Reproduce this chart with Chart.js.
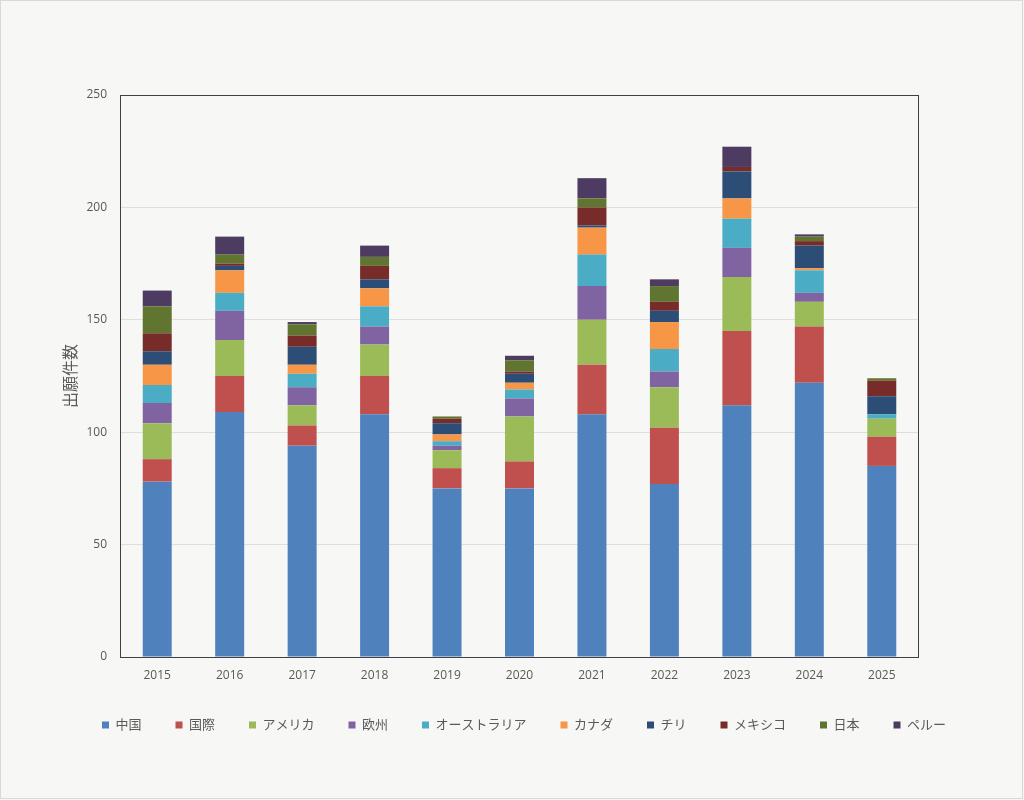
<!DOCTYPE html>
<html>
<head>
<meta charset="utf-8">
<script src="https://cdn.jsdelivr.net/npm/chart.js@4"></script>
<style>
  html, body { margin: 0; padding: 0; background: #f7f7f5; }
  #wrap { width: 1024px; height: 800px; }
</style>
</head>
<body>
<div id="wrap"><canvas id="patentChart" width="1024" height="800"></canvas></div>
<script>
// 年度
var years = ['2015', '2016', '2017', '2018', '2019', '2020', '2021', '2022', '2023', '2024', '2025'];

// 出願先ごとの件数
var china     = [78, 109, 94, 108, 75, 75, 108, 77, 112, 122, 85];
var intl      = [10, 16, 9, 17, 9, 12, 22, 25, 33, 25, 13];
var usa       = [16, 16, 9, 14, 8, 20, 20, 18, 24, 11, 8];
var europe    = [9, 13, 8, 8, 2, 8, 15, 7, 13, 4, 0];
var australia = [8, 8, 6, 9, 2, 4, 14, 10, 13, 10, 2];
var canada    = [9, 10, 4, 8, 3, 3, 12, 12, 9, 1, 0];
var chile     = [6, 2, 8, 4, 5, 4, 1, 5, 12, 10, 8];
var mexico    = [8, 1, 5, 6, 2, 1, 8, 4, 2, 2, 7];
var japan     = [12, 4, 5, 4, 1, 5, 4, 7, 0, 2, 1];
var peru      = [7, 8, 1, 5, 0, 2, 9, 3, 9, 1, 0];

var seriesNames = ['中国', '国際', 'アメリカ', '欧州', 'オーストラリア', 'カナダ', 'チリ', 'メキシコ', '日本', 'ペルー'];
var seriesData = [china, intl, usa, europe, australia, canada, chile, mexico, japan, peru];
var seriesColors = ['#4f81bd', '#c0504d', '#9bbb59', '#8064a2', '#4bacc6', '#f79646', '#2c4d75', '#772c2a', '#5f7530', '#4d3b62'];

var textColor = '#595959';
var baseFont = '"Open Sans", "Noto Sans CJK JP", sans-serif';

var datasets = seriesNames.map(function (name, i) {
    return {
        label: name,
        data: seriesData[i],
        backgroundColor: seriesColors[i],
        borderWidth: 0,
        barPercentage: 0.4,
        categoryPercentage: 1.0
    };
});

// 背景・外枠・プロットエリア枠
var framePlugin = {
    id: 'frame',
    beforeDraw: function (chart) {
        var c = chart.ctx;
        c.save();
        c.fillStyle = '#f7f7f5';
        c.fillRect(0, 0, chart.width, chart.height);
        c.strokeStyle = '#d9d9d9';
        c.lineWidth = 1;
        c.strokeRect(0.5, 0.5, chart.width - 2, chart.height - 2);
        c.restore();
    },
    afterDraw: function (chart) {
        var a = chart.chartArea;
        var c = chart.ctx;
        c.save();
        c.strokeStyle = '#404040';
        c.lineWidth = 1;
        c.strokeRect(Math.round(a.left) - 0.5, Math.round(a.top) + 0.5, Math.round(a.right - a.left) + 1, Math.round(a.bottom - a.top));
        c.restore();
    }
};

var ctx = document.getElementById('patentChart').getContext('2d');
var patentChart = new Chart(ctx, {
    type: 'bar',
    data: {
        labels: years,
        datasets: datasets
    },
    options: {
        responsive: false,
        animation: false,
        layout: {
            padding: { left: 24, right: 0, top: 95, bottom: 58.5 }
        },
        plugins: {
            tooltip: { enabled: false },
            legend: {
                position: 'bottom',
                labels: {
                    boxWidth: 7,
                    boxHeight: 7,
                    padding: 34,
                    color: textColor,
                    font: { size: 13, family: baseFont }
                }
            }
        },
        scales: {
            x: {
                stacked: true,
                grid: { display: false, drawTicks: false },
                border: { display: false },
                ticks: {
                    color: textColor,
                    padding: 11,
                    font: { size: 12, family: baseFont }
                },
                afterFit: function (scale) { scale.height = 27.5; }
            },
            y: {
                stacked: true,
                min: 0,
                max: 250,
                grid: { color: '#dedede', drawTicks: false },
                border: { display: false },
                ticks: {
                    stepSize: 50,
                    color: textColor,
                    padding: 14,
                    font: { size: 12, family: baseFont }
                },
                title: {
                    display: true,
                    text: '出願件数',
                    color: textColor,
                    padding: { top: 38, bottom: 0 },
                    font: { size: 16, family: baseFont }
                },
                afterFit: function (scale) { scale.width = 97; }
            },
            // 右側の余白を確保するためのダミー軸
            yRight: {
                position: 'right',
                display: true,
                grid: { display: false },
                border: { display: false },
                ticks: { display: false },
                afterFit: function (scale) { scale.width = 106; }
            }
        }
    },
    plugins: [framePlugin]
});
</script>
</body>
</html>
